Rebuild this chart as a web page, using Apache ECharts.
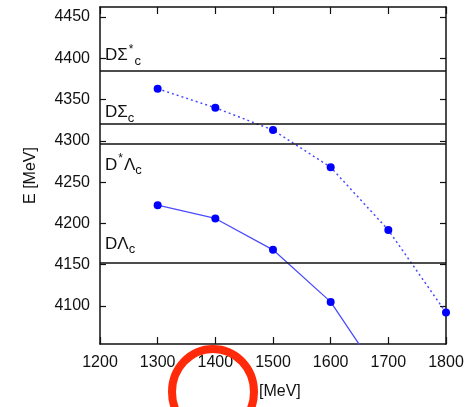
<!DOCTYPE html>
<html>
<head>
<meta charset="utf-8">
<script src="https://cdn.jsdelivr.net/npm/echarts@6/dist/echarts.min.js"></script>
<style>html,body{margin:0;padding:0;background:#fff}#c{width:472px;height:407px}</style>
</head>
<body>
<div id="c"></div>
<script>
const xValues = [1300, 1400, 1500, 1600, 1700, 1800];
const lowerState = [4222, 4206, 4168, 4105, 4001];
const upperState = [4363, 4340, 4313, 4268, 4192, 4092];
const thresholdNames = ['DΣ*c', 'DΣc', 'D*Λc', 'DΛc'];
const thresholdValues = [4385, 4321, 4296, 4152];
const xTicks = [1200, 1300, 1400, 1500, 1600, 1700, 1800];
const yTicks = [4100, 4150, 4200, 4250, 4300, 4350, 4400, 4450];

const FONT = 'Liberation Sans, Arial, sans-serif';
const labelFormats = {
  'DΣ*c': '{m|DΣ}{sup|*}{sub|c}',
  'DΣc': '{m|DΣ}{sub|c}',
  'D*Λc': '{m|D}{sup|*}{m|Λ}{sub|c}',
  'DΛc': '{m|DΛ}{sub|c}'
};
const labelPos = {
  'DΣ*c': 'insideStartTop',
  'DΣc': 'insideStartTop',
  'D*Λc': 'insideStartBottom',
  'DΛc': 'insideStartTop'
};
const labelGap = {'DΣ*c': 3, 'DΣc': -1, 'D*Λc': 9, 'DΛc': 7};
const rich = {
  m: {fontSize: 17, fontFamily: FONT, color: '#111', lineHeight: 24, verticalAlign: 'middle'},
  sup: {fontSize: 12, fontFamily: FONT, color: '#111', verticalAlign: 'top', padding: [0, 1, 0, 1]},
  sub: {fontSize: 13, fontFamily: FONT, color: '#111', verticalAlign: 'bottom'}
};

const chart = echarts.init(document.getElementById('c'), null, {renderer: 'canvas'});
const axisLine = {show: true, lineStyle: {color: '#111', width: 1.5}};
const tickStyle = {color: '#111', width: 1.2};
const plain = v => String(v);

chart.setOption({
  animation: false,
  backgroundColor: '#fff',
  grid: {left: 100, right: 26, top: 7, bottom: 63, show: false},
  xAxis: [{
    type: 'value', min: 1200, max: 1800, interval: 100, position: 'bottom',
    axisLine: axisLine,
    axisTick: {show: true, inside: true, length: 7, lineStyle: tickStyle, customValues: xTicks},
    axisLabel: {fontSize: 16, fontFamily: FONT, color: '#111', margin: 11, customValues: xTicks, formatter: plain},
    splitLine: {show: false}
  }, {
    type: 'value', min: 1200, max: 1800, interval: 100, position: 'top',
    axisLine: axisLine,
    axisTick: {show: true, inside: true, length: 7, lineStyle: tickStyle, customValues: xTicks},
    axisLabel: {show: false},
    splitLine: {show: false}
  }],
  yAxis: [{
    type: 'value', min: 4054, max: 4462, position: 'left',
    name: 'E [MeV]', nameLocation: 'middle', nameGap: 61, nameRotate: 90,
    nameTextStyle: {fontSize: 16, fontFamily: FONT, color: '#111'},
    axisLine: axisLine,
    axisTick: {show: true, inside: true, length: 6, lineStyle: tickStyle, customValues: yTicks},
    axisLabel: {fontSize: 16, fontFamily: FONT, color: '#111', margin: 10, customValues: yTicks, formatter: plain},
    splitLine: {show: false}
  }, {
    type: 'value', min: 4054, max: 4462, position: 'right',
    axisLine: axisLine,
    axisTick: {show: true, inside: true, length: 6, lineStyle: tickStyle, customValues: yTicks},
    axisLabel: {show: false},
    splitLine: {show: false}
  }],
  series: [{
    type: 'line',
    data: xValues.slice(0, lowerState.length).map((x, i) => [x, lowerState[i]]),
    clip: true,
    symbol: 'circle', symbolSize: 8,
    itemStyle: {color: '#0000ff'},
    lineStyle: {color: '#4b4bff', width: 1.3},
    z: 3,
    markLine: {
      silent: true, symbol: ['none', 'none'], animation: false,
      lineStyle: {color: '#111', width: 1.5, type: 'solid'},
      data: thresholdNames.map((n, i) => ({
        yAxis: thresholdValues[i],
        label: {show: true, position: labelPos[n], formatter: labelFormats[n], rich: rich, distance: [5, labelGap[n]]}
      }))
    }
  }, {
    type: 'line',
    data: xValues.map((x, i) => [x, upperState[i]]),
    clip: true,
    symbol: 'circle', symbolSize: 8,
    itemStyle: {color: '#0000ff'},
    lineStyle: {color: '#4b4bff', width: 1.5, type: [2, 3]},
    z: 3
  }],
  graphic: [{
    type: 'text', left: 259, top: 384,
    style: {text: '[MeV]', fontSize: 16, fontFamily: FONT, fill: '#111'}
  }, {
    type: 'ellipse', z: 100,
    shape: {cx: 213, cy: 392, rx: 41, ry: 43},
    style: {fill: 'none', stroke: '#ff2a0a', lineWidth: 8}
  }]
});
</script>
</body>
</html>
